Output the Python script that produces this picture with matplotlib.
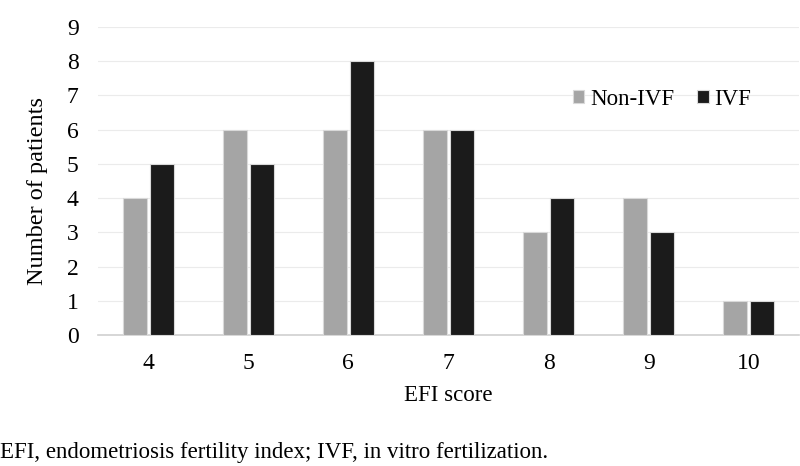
import numpy as np
import matplotlib
matplotlib.use('Agg')
import matplotlib.pyplot as plt

scores = ['4', '5', '6', '7', '8', '9', '10']
non_ivf = [4, 6, 6, 6, 3, 4, 1]
ivf = [5, 5, 8, 6, 4, 3, 1]

plt.rcParams['font.family'] = 'Liberation Serif'
fs = 16.5

fig = plt.figure(figsize=(8, 4.66), dpi=100)
ax = fig.add_axes([0.1225, 0.281, 0.876, 0.661])

x = np.arange(len(scores))
w = 0.24
ax.bar(x - 0.135, non_ivf, w, color='#a5a5a5', edgecolor='#d9d9d9', linewidth=0.8, label='Non-IVF', zorder=3)
ax.bar(x + 0.135, ivf, w, color='#1b1b1b', edgecolor='#d9d9d9', linewidth=0.8, label='IVF', zorder=3)

ax.set_xlim(-0.5, len(scores) - 0.5)
ax.set_ylim(0, 9)
ax.set_yticks(range(0, 10))
ax.set_xticks(x)
ax.set_xticklabels(scores)
ax.yaxis.grid(True, color='#ebebeb', linewidth=0.8, zorder=0)
ax.set_axisbelow(True)
for s in ['top', 'right', 'left']:
    ax.spines[s].set_visible(False)
ax.spines['bottom'].set_color('#d0d0d0')
ax.spines['bottom'].set_linewidth(1.2)
ax.tick_params(length=0, labelsize=17)
ax.tick_params(axis='x', pad=13)
ax.tick_params(axis='y', pad=14)

ax.set_xlabel('EFI score', fontsize=fs, labelpad=8)
ax.set_ylabel('Number of patients', fontsize=17.5, va='center')
ax.yaxis.set_label_coords(-0.087, 0.468)

ax.legend(loc='center', bbox_to_anchor=(0.805, 0.766), ncol=2, frameon=False,
          fontsize=fs, handlelength=0.5, handleheight=0.5, handletextpad=0.25,
          columnspacing=1.0)

fig.text(0.0, 0.028, 'EFI, endometriosis fertility index; IVF, in vitro fertilization.',
         fontsize=fs, ha='left', va='center')

fig.savefig('out.png', dpi=100)
